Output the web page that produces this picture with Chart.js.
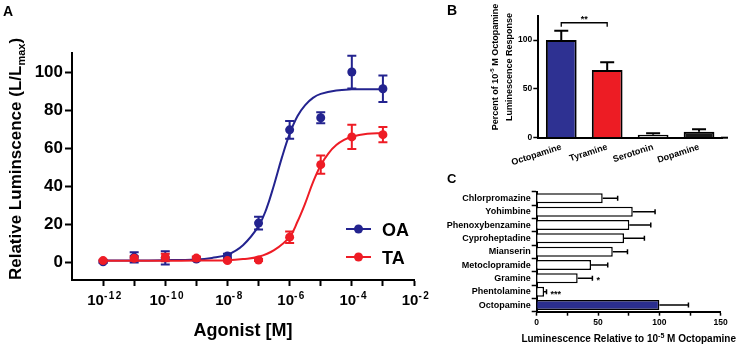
<!DOCTYPE html>
<html><head><meta charset="utf-8">
<script src="https://cdn.jsdelivr.net/npm/chart.js@4.4.1/dist/chart.umd.min.js"></script>
<style>
html,body{margin:0;padding:0;background:#fff;}
body{width:739px;height:349px;position:relative;overflow:hidden;}
canvas{position:absolute;display:block;}
</style></head>
<body>
<canvas id="ca" width="440" height="349" style="left:0;top:0"></canvas>
<canvas id="cb" width="299" height="175" style="left:440px;top:0"></canvas>
<canvas id="cc" width="299" height="179" style="left:440px;top:170px"></canvas>
<script>
const FONT = '"Liberation Sans", Arial, Helvetica, sans-serif';

// ---------- Panel A data (x = log10 of molar concentration) ----------
const concExp = [-12, -11, -10, -9, -8, -7, -6, -5, -4, -3];
const oaMean  = [0.3, 2.6, 2.3, 1.7, 3.3, 20.6, 69.6, 76.0, 100.0, 91.2];
const oaErr   = [0.6, 2.7, 3.5, 0.8, 1.2, 3.3, 4.7, 2.9, 8.6, 7.0];
const taMean  = [0.9, 2.1, 2.5, 2.2, 0.9, 1.2, 13.2, 51.3, 65.9, 67.1];
const taErr   = [0.5, 1.2, 2.0, 0.8, 0.5, 0.5, 3.0, 4.8, 6.4, 4.0];
// fitted curves
const oaFitExp = [-12, -11, -10, -9, -8.5, -8, -7.5, -7, -6.75, -6.5, -6.25, -6, -5.75, -5.5, -5.25, -5, -4.5, -4, -3.5, -3];
const oaFitVal = [1.0, 1.0, 1.1, 1.5, 2.3, 4.0, 9.0, 19.0, 28, 40.8, 55, 67.5, 76.8, 82.6, 86.4, 88.5, 90.3, 90.9, 91, 91];
const taFitExp = [-12, -11, -10, -9, -8, -7.5, -7, -6.5, -6, -5.75, -5.5, -5.25, -5, -4.75, -4.5, -4.25, -4, -3.5, -3];
const taFitVal = [0.8, 0.8, 0.8, 0.9, 1.1, 1.7, 2.9, 6.4, 13.4, 21.3, 31, 42, 51, 57.3, 61.6, 64.3, 66, 67.5, 68];
const xTickExpA = [-12, -11, -10, -9, -8, -7, -6, -5, -4, -3, -2];
const xLabelExpA = [-12, -10, -8, -6, -4, -2];
const yTicksA = [0, 20, 40, 60, 80, 100];
const seriesNames = ['OA', 'TA'];

// ---------- Panel B data ----------
const bCats = ['Octopamine', 'Tyramine', 'Serotonin', 'Dopamine'];
const bVals = [100, 69.3, 3.1, 6.1];
const bErr  = [9.5, 7.9, 1.4, 2.5];
const bColors = ['#2e3192', '#ed1c24', '#cfcfcf', '#1a1a1a'];
const yTicksB = [0, 50, 100];

// ---------- Panel C data ----------
const cCats = ['Chlorpromazine', 'Yohimbine', 'Phenoxybenzamine', 'Cyproheptadine', 'Mianserin', 'Metoclopramide', 'Gramine', 'Phentolamine', 'Octopamine'];
const cVals = [53.8, 78.3, 75.5, 71.2, 62.0, 44.3, 33.4, 6.0, 100];
const cErr  = [12.2, 18.2, 17.5, 16.6, 12.0, 13.6, 12.0, 2.0, 23.7];
const cSig  = ['', '', '', '', '', '', '*', '***', ''];
const cColors = ['#ffffff', '#ffffff', '#ffffff', '#ffffff', '#ffffff', '#ffffff', '#ffffff', '#ffffff', '#2b2f8f'];
const xTicksC = [0, 25, 50, 75, 100, 125, 150];

const BLUE = '#23238f', RED = '#ee1c25';

function rich(ctx, parts, x, y, rot, align) {
  ctx.save();
  ctx.translate(x, y);
  if (rot) ctx.rotate(rot);
  ctx.textAlign = 'left'; ctx.textBaseline = 'alphabetic'; ctx.fillStyle = '#000';
  let total = 0;
  parts.forEach(p => { ctx.font = `bold ${p.s}px ${FONT}`; ctx.letterSpacing = (p.ls || 0) + 'px'; p.w = ctx.measureText(p.t).width; total += p.w; });
  let cx = align === 'center' ? -total / 2 : (align === 'right' ? -total : 0);
  parts.forEach(p => { ctx.font = `bold ${p.s}px ${FONT}`; ctx.letterSpacing = (p.ls || 0) + 'px'; ctx.fillText(p.t, cx, p.dy || 0); cx += p.w; });
  ctx.restore();
}

Chart.defaults.font.family = FONT;
Chart.defaults.color = '#000';

// ================= Panel A =================
const plugA = {
  id: 'plugA',
  beforeDatasetsDraw(chart) {
    const { ctx, scales: { x, y } } = chart;
    const drawErr = (means, errs, color) => {
      ctx.save(); ctx.strokeStyle = color; ctx.lineWidth = 2;
      concExp.forEach((e, i) => {
        const px = x.getPixelForValue(e);
        const t = y.getPixelForValue(means[i] + errs[i]);
        const b = y.getPixelForValue(Math.max(means[i] - errs[i], y.min));
        ctx.beginPath();
        ctx.moveTo(px, t); ctx.lineTo(px, b);
        ctx.moveTo(px - 4.5, t); ctx.lineTo(px + 4.5, t);
        ctx.moveTo(px - 4.5, b); ctx.lineTo(px + 4.5, b);
        ctx.stroke();
      });
      ctx.restore();
    };
    drawErr(oaMean, oaErr, BLUE);
    drawErr(taMean, taErr, RED);
  },
  afterDraw(chart) {
    const { ctx, scales: { x }, chartArea } = chart;
    xLabelExpA.forEach(e => {
      rich(ctx, [{ t: '10', s: 15 }, { t: String(e), s: 10, dy: -6, ls: 1.5 }], x.getPixelForValue(e) + 2, 305, 0, 'center');
    });
    rich(ctx, [{ t: 'Agonist [M]', s: 18 }], (chartArea.left + chartArea.right) / 2, 336, 0, 'center');
    rich(ctx, [{ t: 'Relative Luminscence (L/L', s: 17 }, { t: 'max', s: 11, dy: 4 }, { t: ')', s: 17 }], 21, 159, -Math.PI / 2, 'center');
    const leg = [[BLUE, 229], [RED, 257]];
    seriesNames.forEach((n, i) => {
      const [c, ly] = leg[i];
      ctx.save();
      ctx.strokeStyle = c; ctx.fillStyle = c; ctx.lineWidth = 2;
      ctx.beginPath(); ctx.moveTo(346, ly); ctx.lineTo(371, ly); ctx.stroke();
      ctx.beginPath(); ctx.arc(358.5, ly, 4.5, 0, Math.PI * 2); ctx.fill();
      ctx.restore();
      rich(ctx, [{ t: n, s: 18 }], 382, ly + 6.5, 0, 'left');
    });
    rich(ctx, [{ t: 'A', s: 14 }], 3, 16, 0, 'left');
  }
};

new Chart(document.getElementById('ca'), {
  type: 'scatter',
  data: {
    datasets: [
      { label: 'TA', data: concExp.map((e, i) => ({ x: e, y: taMean[i] })), showLine: false, pointRadius: 4.5, pointBorderWidth: 0, backgroundColor: RED, order: 0 },
      { label: 'TA fit', data: taFitExp.map((e, i) => ({ x: e, y: taFitVal[i] })), showLine: true, pointRadius: 0, borderColor: RED, borderWidth: 2, tension: 0.4, order: 1 },
      { label: 'OA', data: concExp.map((e, i) => ({ x: e, y: oaMean[i] })), showLine: false, pointRadius: 4.5, pointBorderWidth: 0, backgroundColor: BLUE, order: 2 },
      { label: 'OA fit', data: oaFitExp.map((e, i) => ({ x: e, y: oaFitVal[i] })), showLine: true, pointRadius: 0, borderColor: BLUE, borderWidth: 2, tension: 0.4, order: 3 }
    ]
  },
  options: {
    responsive: false, animation: false, events: [],
    layout: { padding: { left: 0, right: 26, top: 53, bottom: 0 } },
    plugins: { legend: { display: false }, tooltip: { enabled: false } },
    scales: {
      x: {
        type: 'linear', min: -13, max: -2,
        afterBuildTicks: s => { s.ticks = xTickExpA.map(v => ({ value: v })); },
        afterFit: s => { s.height = 69; },
        ticks: { display: false },
        grid: { display: true, drawOnChartArea: false, drawTicks: true, tickLength: 6, tickWidth: 2, tickColor: '#000' },
        border: { display: true, color: '#000', width: 2 }
      },
      y: {
        type: 'linear', min: -9.3, max: 110,
        afterBuildTicks: s => { s.ticks = yTicksA.map(v => ({ value: v })); },
        afterFit: s => { s.width = 72; },
        ticks: { font: { size: 17, weight: 'bold' }, color: '#000', padding: 2 },
        grid: { display: true, drawOnChartArea: false, drawTicks: true, tickLength: 7, tickWidth: 2, tickColor: '#000' },
        border: { display: true, color: '#000', width: 2 }
      }
    }
  },
  plugins: [plugA]
});

// ================= Panel B =================
const plugB = {
  id: 'plugB',
  afterDatasetsDraw(chart) {
    const { ctx, scales: { x, y } } = chart;
    ctx.save(); ctx.strokeStyle = '#000'; ctx.lineWidth = 2;
    bVals.forEach((v, i) => {
      const px = x.getPixelForValue(i);
      const t = y.getPixelForValue(v + bErr[i]);
      const b = y.getPixelForValue(v);
      ctx.beginPath(); ctx.moveTo(px, b); ctx.lineTo(px, t);
      ctx.moveTo(px - 7, t); ctx.lineTo(px + 7, t); ctx.stroke();
    });
    const x0 = x.getPixelForValue(0), x1 = x.getPixelForValue(1);
    const yb = y.getPixelForValue(117.7), yl = y.getPixelForValue(113.6);
    ctx.lineWidth = 1.3;
    ctx.beginPath(); ctx.moveTo(x0, yl); ctx.lineTo(x0, yb); ctx.lineTo(x1, yb); ctx.lineTo(x1, yl); ctx.stroke();
    ctx.lineWidth = 2;
    ctx.beginPath(); ctx.moveTo(chart.chartArea.right - 1, y.getPixelForValue(0)); ctx.lineTo(chart.chartArea.right + 6, y.getPixelForValue(0)); ctx.stroke();
    ctx.restore();
    rich(ctx, [{ t: '**', s: 9 }], (x0 + x1) / 2, yb - 1, 0, 'center');
  },
  afterDraw(chart) {
    const { ctx } = chart;
    rich(ctx, [{ t: 'Percent of 10', s: 9 }, { t: '-5', s: 6, dy: -4 }, { t: ' M Octopamine', s: 9 }], 58, 67, -Math.PI / 2, 'center');
    rich(ctx, [{ t: 'Luminescence Response', s: 9 }], 72, 67, -Math.PI / 2, 'center');
    rich(ctx, [{ t: 'B', s: 14 }], 7, 15, 0, 'left');
  }
};

new Chart(document.getElementById('cb'), {
  type: 'bar',
  data: {
    labels: bCats,
    datasets: [{ data: bVals, backgroundColor: bColors, borderColor: '#000', borderWidth: 2, barPercentage: 0.67, categoryPercentage: 1 }]
  },
  options: {
    responsive: false, animation: false, events: [],
    layout: { padding: { left: 0, right: 17, top: 15.6, bottom: 0 } },
    plugins: { legend: { display: false }, tooltip: { enabled: false } },
    scales: {
      x: {
        afterFit: s => { s.height = 37.3; },
        ticks: { font: { size: 9, weight: 'bold' }, color: '#000', minRotation: 18, maxRotation: 18, autoSkip: false, padding: 4 },
        grid: { display: false, drawTicks: false },
        border: { display: true, color: '#000', width: 2 }
      },
      y: {
        min: 0, max: 125,
        afterBuildTicks: s => { s.ticks = yTicksB.map(v => ({ value: v })); },
        afterFit: s => { s.width = 98.3; },
        ticks: { font: { size: 8.5, weight: 'bold' }, color: '#000', padding: 1 },
        grid: { display: true, drawOnChartArea: false, drawTicks: true, tickLength: 5, tickWidth: 1.5, tickColor: '#000' },
        border: { display: true, color: '#000', width: 2 }
      }
    }
  },
  plugins: [plugB]
});

// ================= Panel C =================
const plugC = {
  id: 'plugC',
  afterDatasetsDraw(chart) {
    const { ctx, scales: { x, y } } = chart;
    cVals.forEach((v, i) => {
      const py = y.getPixelForValue(i);
      const r = x.getPixelForValue(v + cErr[i]);
      const l = x.getPixelForValue(v);
      ctx.save(); ctx.strokeStyle = '#000'; ctx.lineWidth = 1.5;
      ctx.beginPath(); ctx.moveTo(l, py); ctx.lineTo(r, py);
      ctx.moveTo(r, py - 2.5); ctx.lineTo(r, py + 2.5); ctx.stroke();
      ctx.restore();
      if (cSig[i]) rich(ctx, [{ t: cSig[i], s: 9 }], r + 4, py + 5, 0, 'left');
    });
  },
  afterDraw(chart) {
    const { ctx, chartArea } = chart;
    rich(ctx, [{ t: 'Luminescence Relative to 10', s: 10 }, { t: '-5', s: 7, dy: -4 }, { t: ' M Octopamine', s: 10 }], (chartArea.left + chartArea.right) / 2, 172.3, 0, 'center');
    rich(ctx, [{ t: 'C', s: 13 }], 7, 12.7, 0, 'left');
  }
};

new Chart(document.getElementById('cc'), {
  type: 'bar',
  data: {
    labels: cCats,
    datasets: [{ data: cVals, backgroundColor: cColors, borderColor: '#000', borderWidth: 1.5, barPercentage: 0.75, categoryPercentage: 1 }]
  },
  options: {
    indexAxis: 'y',
    responsive: false, animation: false, events: [],
    layout: { padding: { left: 0, right: 18.3, top: 21.7, bottom: 0 } },
    plugins: { legend: { display: false }, tooltip: { enabled: false } },
    scales: {
      x: {
        min: 0, max: 150,
        afterBuildTicks: s => { s.ticks = xTicksC.map(v => ({ value: v })); },
        afterFit: s => { s.height = 37.3; },
        ticks: { font: { size: 8.5, weight: 'bold' }, color: '#000', padding: 2, callback: v => (v % 50 === 0 ? String(v) : '') },
        grid: { display: true, drawOnChartArea: false, drawTicks: true, tickLength: 4, tickWidth: 1.5, tickColor: '#000' },
        border: { display: true, color: '#000', width: 2 }
      },
      y: {
        afterFit: s => { s.width = 96.7; },
        ticks: { font: { size: 9, weight: 'bold' }, color: '#000', padding: 1, autoSkip: false },
        grid: { display: true, drawOnChartArea: false, drawTicks: true, tickLength: 5, tickWidth: 1.5, tickColor: '#000' },
        border: { display: true, color: '#000', width: 2 }
      }
    }
  },
  plugins: [plugC]
});
</script>
</body></html>
